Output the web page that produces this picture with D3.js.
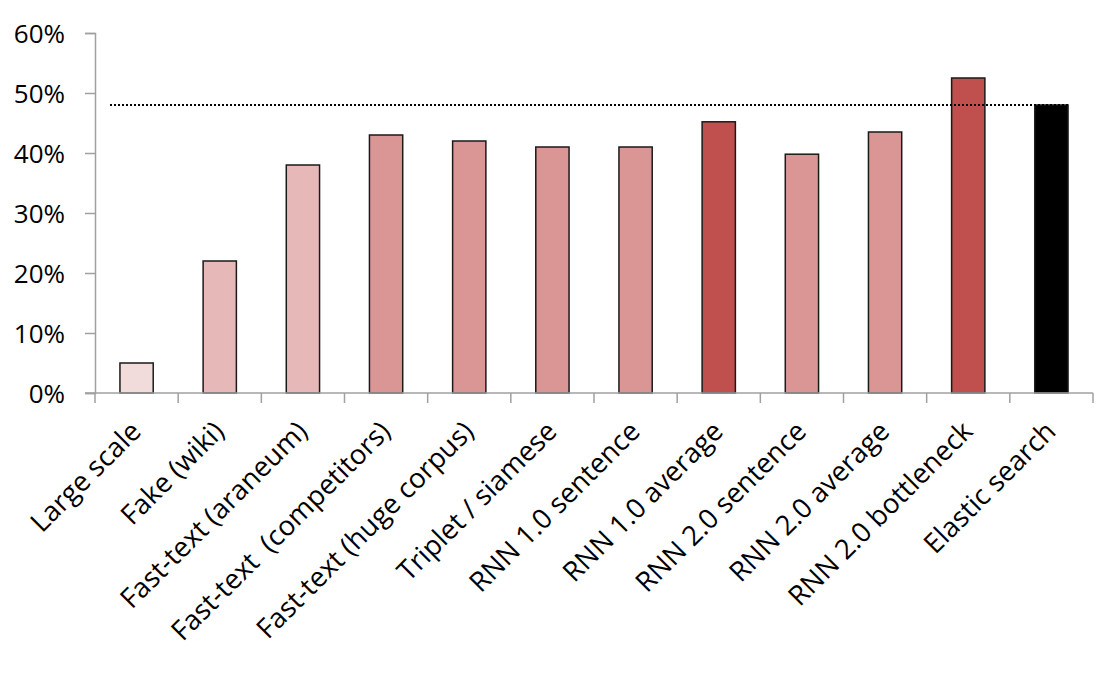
<!DOCTYPE html>
<html><head><meta charset="utf-8">
<script src="https://cdn.jsdelivr.net/npm/d3@7"></script>
<style>body{margin:0;background:#fff;} text{font-family:"Open Sans","Noto Sans",sans-serif;fill:#000;white-space:pre;}</style>
</head><body><svg id="c" width="1108" height="676"></svg>
<script>
const categories = ["Large scale","Fake (wiki)","Fast-text (araneum)","Fast-text  (competitors)","Fast-text (huge corpus)","Triplet / siamese","RNN 1.0 sentence","RNN 1.0 average","RNN 2.0 sentence","RNN 2.0 average","RNN 2.0 bottleneck","Elastic search"];
const values = [0.05,0.22,0.38,0.43,0.42,0.41,0.41,0.452,0.398,0.435,0.525,0.48];
const colorGroups = ["lightest","light","light","medium","medium","medium","medium","dark","medium","medium","dark","black"];
const baselineValue = 0.48;
const yTicks = [0,0.1,0.2,0.3,0.4,0.5,0.6];

const palette = {lightest:"#F2DCDB",light:"#E6B9B8",medium:"#D99694",dark:"#C0504D",black:"#000000"};
const svg = d3.select("#c");
const x = d3.scaleBand().domain(categories).range([95,1093]).paddingInner(0.6).paddingOuter(0.3);
const y = d3.scaleLinear().domain([0,0.6]).range([393,33]);

// y axis
const ya = svg.append("g").attr("transform","translate(95,0)")
  .call(d3.axisLeft(y).tickValues(yTicks).tickFormat(d3.format(".0%")).tickSize(10).tickPadding(20));
ya.select(".domain").attr("stroke","#a0a0a0").attr("stroke-width",1.5);
ya.selectAll(".tick line").attr("stroke","#a0a0a0").attr("stroke-width",1.5);
ya.selectAll(".tick text").attr("font-size",26).attr("dy","0.35em");

// bars
svg.append("g").selectAll("rect").data(categories).join("rect")
  .attr("x",d=>x(d)).attr("width",x.bandwidth())
  .attr("y",(d,i)=>y(values[i])).attr("height",(d,i)=>y(0)-y(values[i]))
  .attr("fill",(d,i)=>palette[colorGroups[i]]).attr("stroke","#1a1a1a").attr("stroke-width",1.5);

// x axis
const xTickPos = d3.range(categories.length+1).map(i=>95+i*(998/categories.length));
const xa = svg.append("g");
xa.append("line").attr("x1",85).attr("x2",1093).attr("y1",393).attr("y2",393).attr("stroke","#a0a0a0").attr("stroke-width",1.5);
xa.selectAll("line.t").data(xTickPos).join("line").attr("class","t")
  .attr("x1",d=>d).attr("x2",d=>d).attr("y1",393).attr("y2",403).attr("stroke","#a0a0a0").attr("stroke-width",1.5);
xa.selectAll("text").data(categories).join("text")
  .attr("transform",d=>`translate(${x(d)+x.bandwidth()/2+6},${433}) rotate(-45)`)
  .attr("text-anchor","end").attr("font-size",27.5).text(d=>d);

// dotted reference line
svg.append("line").attr("x1",110).attr("x2",x(categories[categories.length-1])+x.bandwidth())
  .attr("y1",y(baselineValue)).attr("y2",y(baselineValue))
  .attr("stroke","#000").attr("stroke-width",2).attr("stroke-dasharray","2,2");
</script></body></html>
